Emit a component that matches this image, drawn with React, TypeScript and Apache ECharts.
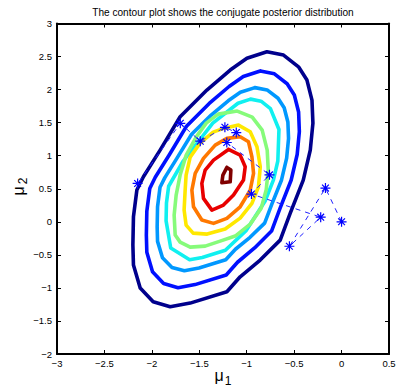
import React, { useEffect, useRef } from "react";
import * as echarts from "echarts";

const titleText = "The contour plot shows the conjugate posterior distribution";
const xTicks = { min: -3, max: 0.5, step: 0.5 };
const yTicks = { min: -2, max: 3, step: 0.5 };

// contour polygons (mu1, mu2), outermost first
const navyLevel = [
  [-0.787, 2.572], [-0.612, 2.522], [-0.454, 2.345], [-0.365, 2.144], [-0.312, 1.841],
  [-0.302, 1.493], [-0.33, 1.085], [-0.404, 0.631], [-0.541, 0.132], [-0.647, -0.277],
  [-0.858, -0.579], [-1.069, -0.832], [-1.209, -1.059], [-1.596, -1.23], [-1.807, -1.286],
  [-1.986, -1.21], [-2.123, -1.003], [-2.194, -0.655], [-2.2, -0.352], [-2.194, 0.076],
  [-2.158, 0.48], [-2.089, 0.681], [-1.913, 1.085], [-1.702, 1.589], [-1.42, 1.993],
  [-1.174, 2.296], [-0.998, 2.473],
];
const blueLevel = [
  [-0.857, 2.282], [-0.708, 2.239], [-0.574, 2.089], [-0.498, 1.918], [-0.453, 1.661],
  [-0.445, 1.365], [-0.468, 1.018], [-0.531, 0.632], [-0.648, 0.208], [-0.738, -0.14],
  [-0.917, -0.396], [-1.097, -0.612], [-1.216, -0.804], [-1.545, -0.95], [-1.724, -0.997],
  [-1.876, -0.933], [-1.993, -0.757], [-2.053, -0.461], [-2.058, -0.204], [-2.053, 0.16],
  [-2.022, 0.504], [-1.964, 0.675], [-1.814, 1.018], [-1.635, 1.446], [-1.395, 1.79],
  [-1.186, 2.047], [-1.036, 2.198],
];
const azureLevel = [
  [-0.913, 2.03], [-0.785, 1.995], [-0.67, 1.87], [-0.605, 1.725], [-0.566, 1.51],
  [-0.559, 1.262], [-0.579, 0.964], [-0.633, 0.633], [-0.733, 0.275], [-0.811, -0.02],
  [-0.965, -0.235], [-1.119, -0.415], [-1.221, -0.575], [-1.503, -0.7], [-1.657, -0.74],
  [-1.788, -0.69], [-1.888, -0.545], [-1.94, -0.296], [-1.944, -0.08], [-1.94, 0.228],
  [-1.914, 0.523], [-1.863, 0.669], [-1.735, 0.964], [-1.581, 1.325], [-1.375, 1.615],
  [-1.195, 1.83], [-1.067, 1.96],
];
const cyanLevel = [
  [-0.959, 1.856], [-0.849, 1.825], [-0.75, 1.713], [-0.66, 1.396], [-0.672, 0.92],
  [-0.718, 0.634], [-0.804, 0.319], [-1.004, -0.129], [-1.225, -0.431], [-1.469, -0.539],
  [-1.602, -0.574], [-1.801, -0.396], [-1.85, 0.014], [-1.846, 0.284], [-1.823, 0.538],
  [-1.669, 0.92], [-1.358, 1.492], [-1.092, 1.794],
];
const greenLevel = [
  [-1.301, 1.629], [-1.1, 1.675], [-0.942, 1.584], [-0.837, 1.387], [-0.784, 1.085],
  [-0.773, 0.782], [-0.795, 0.48], [-0.847, 0.207], [-0.963, -0.035], [-1.121, -0.216],
  [-1.28, -0.292], [-1.438, -0.368], [-1.596, -0.383], [-1.702, -0.307], [-1.754, -0.201],
  [-1.765, 0.101], [-1.744, 0.404], [-1.702, 0.707], [-1.638, 1.009], [-1.533, 1.281],
  [-1.427, 1.493],
];
const yellowLevel = [
  [-1.245, 1.413], [-1.087, 1.463], [-0.963, 1.362], [-0.892, 1.135], [-0.857, 0.832],
  [-0.876, 0.53], [-0.945, 0.278], [-1.069, 0.056], [-1.227, -0.11], [-1.417, -0.186],
  [-1.565, -0.171], [-1.639, -0.05], [-1.66, 0.177], [-1.649, 0.48], [-1.639, 0.707],
  [-1.596, 0.979], [-1.491, 1.191], [-1.354, 1.357],
];
const orangeLevel = [
  [-1.209, 1.262], [-1.069, 1.286], [-0.981, 1.21], [-0.945, 0.983], [-0.928, 0.732],
  [-0.963, 0.48], [-1.069, 0.227], [-1.209, 0.051], [-1.35, -0.024], [-1.473, 0.026],
  [-1.561, 0.227], [-1.578, 0.48], [-1.543, 0.732], [-1.456, 0.959], [-1.332, 1.16],
];
const redLevel = [
  [-1.192, 1.095], [-1.069, 1.009], [-1.016, 0.832], [-1.034, 0.631], [-1.139, 0.404],
  [-1.245, 0.253], [-1.367, 0.177], [-1.456, 0.354], [-1.473, 0.581], [-1.438, 0.782],
  [-1.35, 0.933],
];
const darkRedLevel = [
  [-1.209, 0.823], [-1.167, 0.782], [-1.174, 0.605], [-1.262, 0.59], [-1.251, 0.707],
];

// sampler path (mu1, mu2), in visiting order
const sampleMu1 = [0, -0.17, -0.55, -0.22, -0.95, -0.76, -1.21, -1.11, -1.23, -1.49, -1.7, -2.15];
const sampleMu2 = [0, 0.51, -0.37, 0.07, 0.42, 0.71, 1.2, 1.35, 1.43, 1.22, 1.49, 0.58];

const levelColors = [
  "#00008c", "#0010ff", "#0098ff", "#10f0f0", "#86fb7a",
  "#ffe800", "#ff7800", "#e80000", "#800000",
];
const levels = [
  navyLevel, blueLevel, azureLevel, cyanLevel, greenLevel,
  yellowLevel, orangeLevel, redLevel, darkRedLevel,
];

const FONT = "Liberation Sans, Arial, Helvetica, sans-serif";
const W = 430;
const H = 410;

export default function App() {
  const ref = useRef<HTMLDivElement>(null);
  useEffect(() => {
    if (!ref.current) return;
    document.body.style.margin = "0";
    document.body.style.overflow = "hidden";
    document.documentElement.style.overflow = "hidden";
    const chart = echarts.init(ref.current, undefined, { renderer: "svg" });
    const fmt = (v: number) => String(v).replace("-", "\u2212");
    const baseAxis = {
      type: "value" as const,
      axisLine: { show: true, onZero: false, lineStyle: { color: "#000", width: 2 } },
      axisTick: { show: true, inside: true, length: 4, lineStyle: { color: "#000", width: 1 } },
      splitLine: { show: false },
    };
    const contourSeries = levels.map((pts, i) => ({
      type: "line" as const,
      data: [...pts, pts[0]],
      showSymbol: false,
      smooth: false,
      silent: true,
      lineStyle: { color: levelColors[i], width: 3.6, join: "round", cap: "round" },
      z: 2,
    }));
    const samples = sampleMu1.map((x, i) => [x, sampleMu2[i]]);
    const txt = { fontFamily: FONT, fill: "#000" };
    chart.setOption({
      animation: false,
      grid: {
        left: 57, right: W - 389, top: 23.5, bottom: H - 354,
        containLabel: false, outerBoundsMode: "none",
      },
      xAxis: [
        {
          ...baseAxis,
          position: "bottom",
          min: xTicks.min,
          max: xTicks.max,
          interval: xTicks.step,
          axisLabel: {
            fontFamily: FONT, fontSize: 9.5, color: "#000", margin: 4, formatter: fmt,
            showMinLabel: true, showMaxLabel: true, hideOverlap: false,
          },
        },
        {
          ...baseAxis,
          position: "top",
          min: xTicks.min,
          max: xTicks.max,
          interval: xTicks.step,
          axisLabel: { show: false },
        },
      ],
      yAxis: [
        {
          ...baseAxis,
          position: "left",
          min: yTicks.min,
          max: yTicks.max,
          interval: yTicks.step,
          axisLabel: {
            fontFamily: FONT, fontSize: 9.5, color: "#000", margin: 5, formatter: fmt,
            showMinLabel: true, showMaxLabel: true,
          },
        },
        {
          ...baseAxis,
          position: "right",
          min: yTicks.min,
          max: yTicks.max,
          interval: yTicks.step,
          axisLabel: { show: false },
        },
      ],
      graphic: [
        { type: "text", x: 223, y: 12, style: { ...txt, text: titleText, fontSize: 10.1, align: "center", verticalAlign: "middle" } },
        { type: "text", x: 219, y: 375, style: { ...txt, text: "\u03bc", fontSize: 16, align: "center", verticalAlign: "middle" } },
        { type: "text", x: 228, y: 381, style: { ...txt, text: "1", fontSize: 12, align: "center", verticalAlign: "middle" } },
        { type: "text", x: 18, y: 191, rotation: Math.PI / 2, style: { ...txt, text: "\u03bc", fontSize: 16, align: "center", verticalAlign: "middle" } },
        { type: "text", x: 23, y: 181, rotation: Math.PI / 2, style: { ...txt, text: "2", fontSize: 12, align: "center", verticalAlign: "middle" } },
      ],
      series: [
        ...contourSeries,
        {
          type: "line",
          data: samples,
          smooth: false,
          symbol: "path://M5 0L5 10M0 5L10 5M1.6 1.6L8.4 8.4M1.6 8.4L8.4 1.6",
          symbolSize: 10,
          showSymbol: true,
          itemStyle: { color: "#0000ff", borderColor: "#0000ff", borderWidth: 1.2 },
          lineStyle: { color: "#2020ff", width: 1, type: [5, 5] },
          z: 5,
        },
      ],
    });
    return () => chart.dispose();
  }, []);
  return <div ref={ref} style={{ width: W, height: H }} />;
}
